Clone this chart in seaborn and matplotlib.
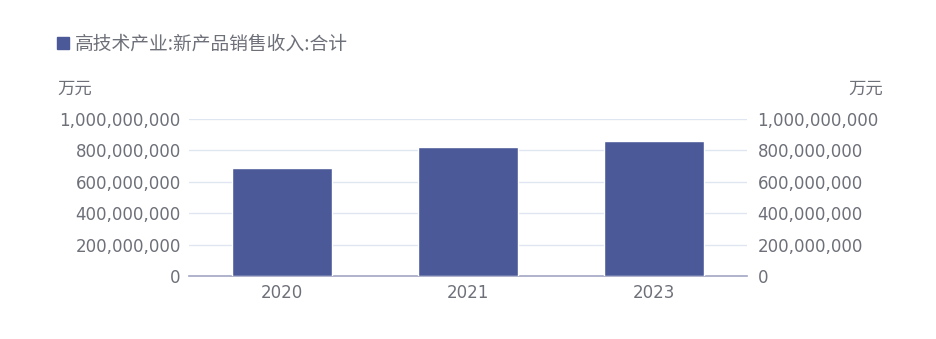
import matplotlib
matplotlib.use("Agg")
import matplotlib.pyplot as plt
import seaborn as sns
import pandas as pd
from matplotlib.lines import Line2D
from matplotlib.ticker import FuncFormatter

years = ["2020", "2021", "2023"]
values = [687000000, 819000000, 861000000]
series_name = "高技术产业:新产品销售收入:合计"
unit = "万元"
yticks = [0, 200000000, 400000000, 600000000, 800000000, 1000000000]

sns.set_theme(style="white")
plt.rcParams['font.family'] = ['Noto Sans CJK SC', 'DejaVu Sans']

bar_color = "#4B5998"
text_color = "#6E7079"
grid_color = "#E0E6F1"
num_font = "DejaVu Sans"

df = pd.DataFrame({"year": years, "value": values})

fig = plt.figure(figsize=(9.37, 3.39), dpi=100)
ax = fig.add_axes([189/937, 1-276/339, (747-189)/937, (276-119)/339])
sns.barplot(data=df, x="year", y="value", color=bar_color, width=0.54,
            saturation=1, ax=ax, zorder=3)
ax.set_xlim(-0.5, 2.5)
ax.set_ylim(0, 1000000000)
ax.set_yticks(yticks)
fmt = FuncFormatter(lambda v, p: f"{int(v):,}")
ax.yaxis.set_major_formatter(fmt)
ax.grid(axis="y", color=grid_color, linewidth=1, zorder=0)
ax.set_axisbelow(True)
for s in ["top", "right", "left"]:
    ax.spines[s].set_visible(False)
ax.spines["bottom"].set_color("#A3A6C4")
ax.spines["bottom"].set_linewidth(1.2)
ax.set_xlabel("")
ax.set_ylabel("")
ax.tick_params(axis="x", length=0, pad=6, labelsize=12, labelcolor=text_color)
ax.tick_params(axis="y", length=0, pad=6, labelsize=12, labelcolor=text_color)
for lab in ax.get_xticklabels() + ax.get_yticklabels():
    lab.set_fontfamily(num_font)

ax2 = ax.twinx()
ax2.set_ylim(ax.get_ylim())
ax2.set_yticks(yticks)
ax2.yaxis.set_major_formatter(fmt)
for s in ["top", "right", "left", "bottom"]:
    ax2.spines[s].set_visible(False)
ax2.tick_params(axis="y", length=0, pad=7.5, labelsize=12, labelcolor=text_color)
for lab in ax2.get_yticklabels():
    lab.set_fontfamily(num_font)

fig.text(57/937, 1-89/339, unit, color=text_color, fontsize=12.5, ha="left", va="center")
fig.text(883/937, 1-89/339, unit, color=text_color, fontsize=12.5, ha="right", va="center")

handle = Line2D([], [], marker="s", linestyle="none", markersize=9,
                markerfacecolor=bar_color, markeredgecolor=bar_color)
fig.legend([handle], [series_name], loc="center left",
           bbox_to_anchor=(46/937, 1-44/339), frameon=False,
           prop={"size": 13.5}, labelcolor=text_color, handletextpad=0.15,
           handlelength=1.0, borderaxespad=0)

fig.savefig("out.png", dpi=100)
